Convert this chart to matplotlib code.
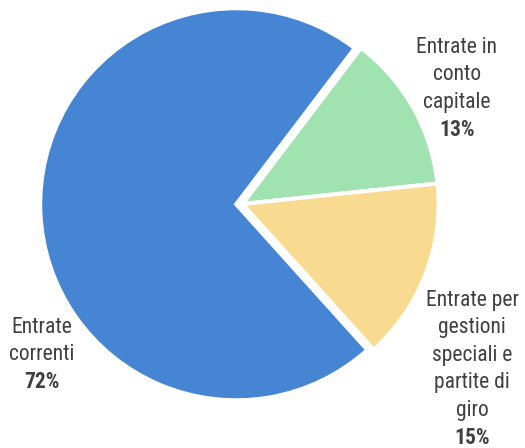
import matplotlib.pyplot as plt
import numpy as np

plt.rcParams['font.family'] = ['Roboto Condensed', 'DejaVu Sans']

labels = ['Entrate\ncorrenti', 'Entrate in\nconto\ncapitale',
          'Entrate per\ngestioni\nspeciali e\npartite di\ngiro']
shares = [72, 13, 15]
colors = ['#4585d3', '#a0e3b0', '#f9da91']

W, H = 525, 448
fig = plt.figure(figsize=(W / 100, H / 100), dpi=100)
ax = fig.add_axes([0, 0, 1, 1])

# pie laid out in pixel units so the label anchors below line up
# (explode is in data units here, i.e. pixels)
cx, cy, r = 242.5, 244, 196
explode = [6.3, 0, 0]
wedges, _ = ax.pie(shares, colors=colors, startangle=-48, counterclock=False,
                   explode=explode, center=(cx, cy), radius=r, frame=True,
                   wedgeprops=dict(edgecolor='white', linewidth=2.9))
ax.set_xlim(0, W)
ax.set_ylim(0, H)
ax.set_aspect('equal')
ax.axis('off')

# label anchor (x centre, y of the first line) in pixels
anchors = [(42, 448 - 327), (457, 448 - 47), (472, 448 - 300)]
step = 27.5
for lab, val, (x, y) in zip(labels, shares, anchors):
    lines = lab.split('\n')
    for i, ln in enumerate(lines):
        ax.text(x, y - i * step, ln, ha='center', va='center',
                fontsize=15.5, color='#404040')
    ax.text(x, y - len(lines) * step, f'{val}%', ha='center', va='center',
            fontsize=15.5, color='#404040', fontweight='bold')

fig.savefig('out.png', dpi=100)
